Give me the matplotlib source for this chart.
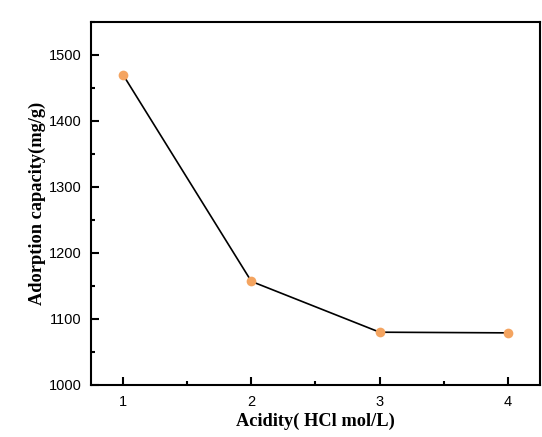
import matplotlib
matplotlib.use("Agg")
import matplotlib.pyplot as plt
from matplotlib.ticker import MultipleLocator

acidity = [1, 2, 3, 4]
capacity = [1470, 1157, 1080, 1079]

fig = plt.figure(figsize=(5.42, 4.37), dpi=100)
ax = fig.add_axes([91/542, 1 - 385/437, (540-91)/542, (385-22)/437])

ax.plot(acidity, capacity, color="black", lw=1.2, zorder=2)
ax.plot(acidity, capacity, "o", color="#f4a460", ms=7, mec="none", zorder=3)

ax.set_xlim(0.75, 4.25)
ax.set_ylim(1000, 1550)
ax.xaxis.set_major_locator(MultipleLocator(1))
ax.xaxis.set_minor_locator(MultipleLocator(0.5))
ax.yaxis.set_major_locator(MultipleLocator(100))
ax.yaxis.set_minor_locator(MultipleLocator(50))

for s in ax.spines.values():
    s.set_linewidth(1.5)
ax.tick_params(which="both", direction="in", width=1.5, top=False, right=False)
ax.tick_params(which="major", length=6, labelsize=10.5, pad=7)
ax.tick_params(which="minor", length=3)
for lab in ax.get_xticklabels() + ax.get_yticklabels():
    lab.set_family("Liberation Sans")

ax.set_xlabel("Acidity( HCl mol/L)", family="Liberation Serif", fontweight="bold", fontsize=13.2, labelpad=3)
ax.set_ylabel("Adorption capacity(mg/g)", family="Liberation Serif", fontweight="bold", fontsize=13.2, labelpad=2)

fig.savefig("out.png", dpi=100)
